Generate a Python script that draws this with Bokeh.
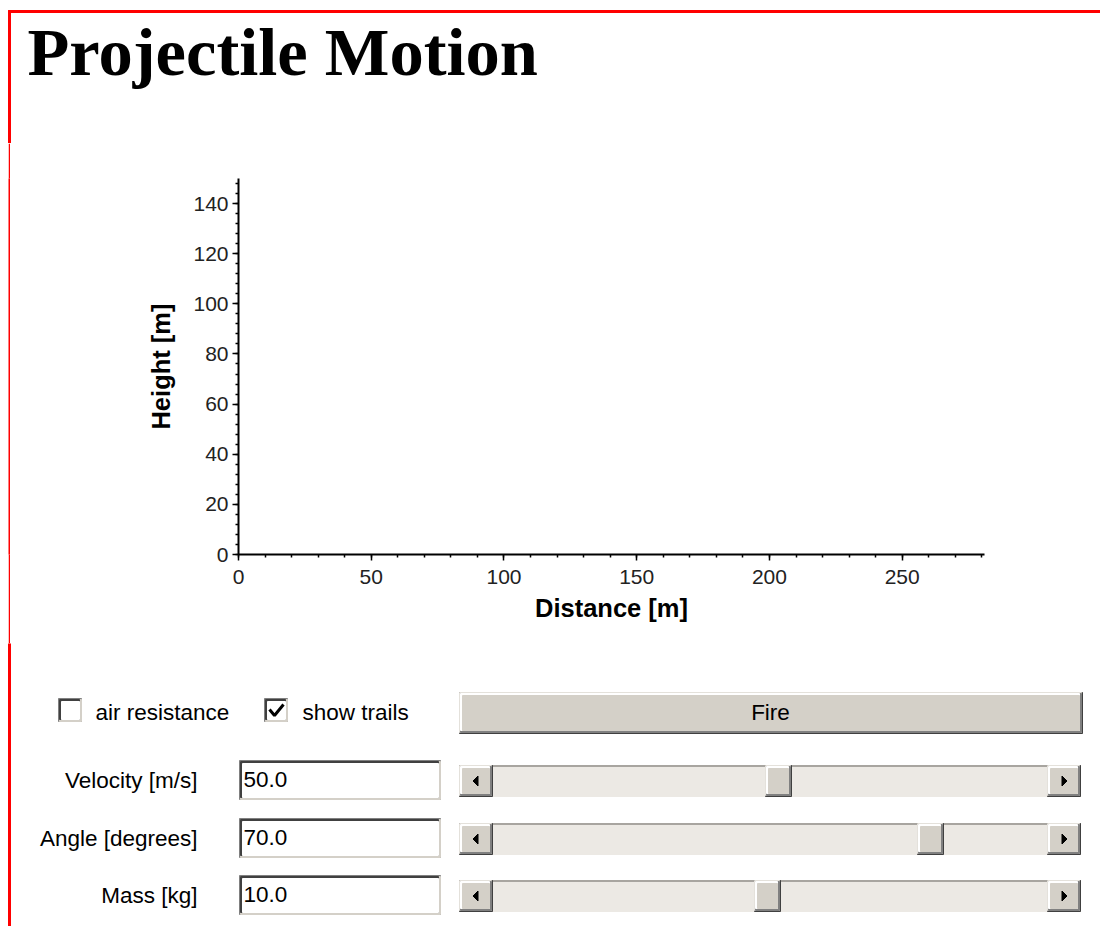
from bokeh.plotting import figure
from bokeh.models import Range1d, SingleIntervalTicker, ColumnDataSource, Spacer
from bokeh.layouts import column, row
from bokeh.embed import file_html
from bokeh.resources import INLINE
from bokeh.core.properties import value

# ---------------- data ----------------
TITLE = "Projectile Motion"
X_LABEL = "Distance [m]"
Y_LABEL = "Height [m]"
x_limits = [0, 281]
y_limits = [0, 150]
x_tick_step = 50
y_tick_step = 20

checkbox_labels = ["air resistance", "show trails"]
checkbox_checked = [False, True]
button_label = "Fire"
param_labels = ["Velocity [m/s]", "Angle [degrees]", "Mass [kg]"]
param_values = [50.0, 70.0, 10.0]
param_min = [0, 0, 0]
param_max = [100, 90, 20]

# ---------------- styles ----------------
SANS = "Liberation Sans"
SERIF = "Liberation Serif"
RED = "#FF0000"
FACE = "#D4D0C8"
TRACK = "#ECE9E4"
W = 1100
UI_FONT = "22.5px"


def panel(w, h, oy=0):
    p = figure(width=w, height=h, x_range=Range1d(0, w), y_range=Range1d(oy + h, oy),
               output_backend="svg", toolbar_location=None, tools="",
               min_border=0, x_axis_type=None, y_axis_type=None)
    p.outline_line_color = None
    p.background_fill_color = "white"
    p.border_fill_color = "white"
    return p


# ---------------- title panel ----------------
TH = 143
pt = panel(W, TH)
pt.quad(left=[8, 8], right=[W, 10], top=[10, 10], bottom=[12, TH], color=RED)
pt.text(x=[27], y=[51], text=[TITLE], text_font=value(SERIF), text_font_size="68.5px",
        text_font_style="bold", text_color="black", text_align="left",
        text_baseline="alphabetic")

# ---------------- chart row ----------------
MH = 500
red_strip = figure(width=2, height=MH, output_backend="svg", toolbar_location=None,
                   tools="", min_border=0, x_axis_type=None, y_axis_type=None,
                   background_fill_color=RED, border_fill_color=RED)
red_strip.outline_line_color = None

pc = figure(width=W - 10, height=MH,
            x_range=Range1d(*x_limits), y_range=Range1d(*y_limits),
            output_backend="svg", toolbar_location=None, tools="",
            min_border_left=228, min_border_right=W - 10 - 228 - 746,
            min_border_top=35, min_border_bottom=89)
pc.outline_line_color = None
pc.xgrid.visible = False
pc.ygrid.visible = False
pc.xaxis.ticker = SingleIntervalTicker(interval=x_tick_step, num_minor_ticks=5)
pc.yaxis.ticker = SingleIntervalTicker(interval=y_tick_step, num_minor_ticks=5)
pc.xaxis.axis_label = X_LABEL
pc.yaxis.axis_label = Y_LABEL
for ax in (pc.xaxis, pc.yaxis):
    ax.axis_line_color = "black"
    ax.axis_line_width = 2
    ax.major_tick_line_color = "black"
    ax.major_tick_line_width = 1.5
    ax.minor_tick_line_color = "black"
    ax.minor_tick_line_width = 1.5
    ax.major_tick_out = 6
    ax.major_tick_in = 0
    ax.minor_tick_out = 3
    ax.minor_tick_in = 0
    ax.major_label_text_font = SANS
    ax.major_label_text_font_size = "21px"
    ax.major_label_text_color = "#222222"
    ax.axis_label_text_font = SANS
    ax.axis_label_text_font_size = "25.5px"
    ax.axis_label_text_font_style = "bold"
    ax.axis_label_text_color = "black"
pc.xaxis.major_label_standoff = 9
pc.yaxis.major_label_standoff = 4
pc.xaxis.axis_label_standoff = 7
pc.yaxis.axis_label_standoff = 15
pc.yaxis.major_label_orientation = "horizontal"

# ---------------- controls panel ----------------
OY = 643
CH = 926 - OY
pk = panel(W, CH, OY)

Q = dict(left=[], right=[], top=[], bottom=[], color=[])


def rect(x0, y0, x1, y1, c):
    Q["left"].append(x0)
    Q["right"].append(x1)
    Q["top"].append(y0)
    Q["bottom"].append(y1)
    Q["color"].append(c)


def bevel(x0, y0, x1, y1, layers, face):
    for tl, br, w in layers:
        rect(x0, y0, x1, y1, br)
        rect(x0, y0, x1 - w, y1 - w, tl)
        x0 += w
        y0 += w
        x1 -= w
        y1 -= w
    rect(x0, y0, x1, y1, face)


RAISED = [("#E4E1DB", "#404040", 1), ("#FFFFFF", "#808080", 2)]
SUNKEN = [("#808080", "#FFFFFF", 1), ("#404040", FACE, 2)]

# red left border
rect(8, OY, 10, OY + CH, RED)

texts_left = dict(x=[], y=[], text=[])
texts_right = dict(x=[], y=[], text=[])
texts_center = dict(x=[], y=[], text=[])


def add_text(d, x, y, t):
    d["x"].append(x)
    d["y"].append(y)
    d["text"].append(t)


# checkboxes
cb_x = [58, 264]
cb_label_x = [95, 302]
cb_cy = 710
check_xs, check_ys = [], []
for bx, lx, lab, on in zip(cb_x, cb_label_x, checkbox_labels, checkbox_checked):
    bevel(bx, cb_cy - 12, bx + 24, cb_cy + 12, SUNKEN, "white")
    add_text(texts_left, lx, 712, lab)
    if on:
        check_xs.append([bx + 5, bx + 10, bx + 19])
        check_ys.append([cb_cy - 1, cb_cy + 5, cb_cy - 6])

# fire button
bevel(459, 692, 1082, 733, RAISED, FACE)
add_text(texts_center, 770, 712, button_label)

# parameter rows
row_cy = [780, 838, 895]
TRK_L, TRK_R = 459, 1080
BTN = 33
THUMB = 26
arrow_xs, arrow_ys = [], []
for cy, lab, v, mn, mx in zip(row_cy, param_labels, param_values, param_min, param_max):
    add_text(texts_right, 197, cy, lab)
    bevel(239, cy - 20, 441, cy + 20, SUNKEN, "white")
    add_text(texts_left, 243, cy - 1, f"{v:.1f}")
    # scrollbar
    y0, y1 = cy - 15, cy + 16
    rect(TRK_L, y0, TRK_R, y1, TRACK)
    rect(TRK_L, y0, TRK_R, y0 + 1, "#A8A5A0")
    bevel(TRK_L, y0, TRK_L + BTN, y1, RAISED, FACE)
    bevel(TRK_R - BTN, y0, TRK_R, y1, RAISED, FACE)
    track_l, track_len = TRK_L + BTN, (TRK_R - BTN) - (TRK_L + BTN)
    frac = (v - mn) / (mx + 1 - mn)
    tl = round(track_l + frac * track_len) - 2
    bevel(tl, y0, tl + THUMB, y1, RAISED, FACE)
    ac = (y0 + y1) / 2
    ax_l = TRK_L + BTN / 2
    ax_r = TRK_R - BTN / 2
    arrow_xs.append([ax_l - 3, ax_l + 2, ax_l + 2])
    arrow_ys.append([ac, ac - 5, ac + 5])
    arrow_xs.append([ax_r + 3, ax_r - 2, ax_r - 2])
    arrow_ys.append([ac, ac - 5, ac + 5])

pk.quad(left="left", right="right", top="top", bottom="bottom", color="color",
        source=ColumnDataSource(Q))
pk.patches(xs=arrow_xs, ys=arrow_ys, color="black")
pk.multi_line(xs=check_xs, ys=check_ys, line_color="black", line_width=3)

for d, al in ((texts_left, "left"), (texts_right, "right"), (texts_center, "center")):
    pk.text(x="x", y="y", text="text", source=ColumnDataSource(d),
            text_font=value(SANS), text_font_size=UI_FONT, text_color="black",
            text_align=al, text_baseline="alphabetic")

layout = column(pt, row(Spacer(width=8, height=MH), red_strip, pc), pk)
open("out.html", "w").write(file_html(layout, INLINE))
